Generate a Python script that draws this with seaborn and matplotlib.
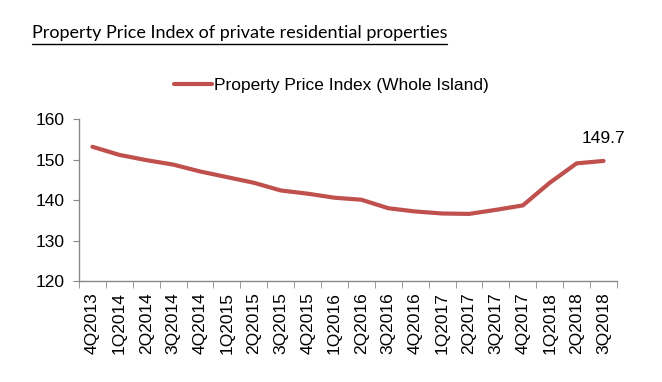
import pandas as pd
import matplotlib.pyplot as plt
import seaborn as sns

# Quarterly URA property price index (whole island)
quarters = ["4Q2013", "1Q2014", "2Q2014", "3Q2014", "4Q2014", "1Q2015", "2Q2015",
            "3Q2015", "4Q2015", "1Q2016", "2Q2016", "3Q2016", "4Q2016", "1Q2017",
            "2Q2017", "3Q2017", "4Q2017", "1Q2018", "2Q2018", "3Q2018"]
ppi = [153.2, 151.2, 149.9, 148.8, 147.1, 145.7, 144.3, 142.4, 141.6, 140.6,
       140.1, 138.0, 137.2, 136.7, 136.6, 137.6, 138.7, 144.3, 149.1, 149.7]
yticks = [120, 130, 140, 150, 160]

df = pd.DataFrame({"Quarter": quarters, "PPI": ppi})

sns.set_style("white")
plt.rcParams["font.family"] = ["Liberation Sans", "DejaVu Sans"]
plt.rcParams["text.color"] = "black"
plt.rcParams["xtick.labelcolor"] = "black"
plt.rcParams["ytick.labelcolor"] = "black"

fig = plt.figure(figsize=(6.62, 3.82), dpi=100)
ax = fig.add_axes([0.1193, 0.2644, 0.8127, 0.4233])

sns.lineplot(data=df, x="Quarter", y="PPI", color="#C0504D", linewidth=3,
             sort=False, ax=ax, label="Property Price Index (Whole Island)")

ax.set_ylim(120, 160)
ax.set_yticks(yticks)
ax.set_xlim(-0.5, len(quarters) - 0.5)
ax.set_xticks(range(len(quarters)))
ax.set_xticklabels(quarters, rotation=90, fontsize=12.5)
ax.tick_params(axis="y", labelsize=12.5, length=4, color="#888888", left=True, pad=6)
ax.tick_params(axis="x", length=0, pad=8)
# category boundary ticks
ax.set_xticks([i - 0.5 for i in range(len(quarters) + 1)], minor=True)
ax.tick_params(axis="x", which="minor", length=5, color="#888888", bottom=True)
ax.set_xlabel("")
ax.set_ylabel("")
for side in ["top", "right"]:
    ax.spines[side].set_visible(False)
for side in ["left", "bottom"]:
    ax.spines[side].set_color("#888888")
    ax.spines[side].set_linewidth(1)

# last value label
ax.annotate(f"{ppi[-1]}", (len(quarters) - 1, ppi[-1]), xytext=(0, 16),
            textcoords="offset points", ha="center", va="center", fontsize=12.5)

ax.get_legend().remove()
handles, labels = ax.get_legend_handles_labels()
fig.legend(handles, labels, loc="center", bbox_to_anchor=(0.5, 0.777),
           frameon=False, fontsize=12.5, handlelength=2.2, handletextpad=0.1)

title = fig.text(0.048, 0.9, "Property Price Index of private residential properties",
                 fontsize=13, family=["Lato", "DejaVu Sans"], va="baseline")
fig.canvas.draw()
bb = title.get_window_extent().transformed(fig.transFigure.inverted())
fig.add_artist(plt.Line2D([bb.x0, bb.x1], [bb.y0 - 0.008, bb.y0 - 0.008],
                          color="black", linewidth=1))

fig.savefig("out.png", dpi=100)
